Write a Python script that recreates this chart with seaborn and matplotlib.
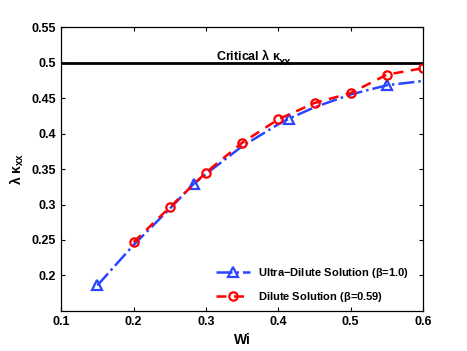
import numpy as np
import pandas as pd
import matplotlib
matplotlib.use("Agg")
import matplotlib.pyplot as plt
import seaborn as sns

# Ultra-dilute solution (beta = 1.0)
wi_ultra = [0.15, 0.2, 0.25, 0.283, 0.3, 0.35, 0.4, 0.415, 0.45, 0.5, 0.55, 0.6]
lk_ultra = [0.186, 0.243, 0.294, 0.329, 0.343, 0.382, 0.413, 0.421, 0.437, 0.455, 0.468, 0.474]
ultra_marks = [0, 3, 7, 10]

# Dilute solution (beta = 0.59)
wi_dilute = [0.2, 0.25, 0.3, 0.35, 0.4, 0.45, 0.5, 0.55, 0.6]
lk_dilute = [0.247, 0.296, 0.345, 0.387, 0.420, 0.443, 0.457, 0.483, 0.492]

critical = 0.5

sns.set_style("ticks")
plt.rcParams['font.family'] = ['Liberation Sans', 'DejaVu Sans']
plt.rcParams['font.weight'] = 'bold'
plt.rcParams['mathtext.fontset'] = 'custom'
plt.rcParams['mathtext.rm'] = 'Liberation Sans:bold'
plt.rcParams['mathtext.it'] = 'Liberation Sans:bold'
plt.rcParams['mathtext.bf'] = 'Liberation Sans:bold'
plt.rcParams['text.color'] = 'black'
plt.rcParams['axes.labelcolor'] = 'black'

df_u = pd.DataFrame({'Wi': wi_ultra, 'lk': lk_ultra})
df_d = pd.DataFrame({'Wi': wi_dilute, 'lk': lk_dilute})

fig = plt.figure(figsize=(4.67, 3.51), dpi=100)
ax = fig.add_axes([0.131, 0.114, 0.775, 0.809])

ax.axhline(critical, color='black', lw=2)

blue = '#2a45ff'
sns.lineplot(data=df_u, x='Wi', y='lk', ax=ax, color=blue, lw=1.8,
             linestyle='-.', marker='^', markersize=7, markevery=ultra_marks,
             markerfacecolor='none', markeredgecolor=blue, markeredgewidth=1.6,
             label=r'Ultra$-$Dilute Solution ($\beta$=1.0)')
sns.lineplot(data=df_d, x='Wi', y='lk', ax=ax, color='red', lw=1.8,
             linestyle=(0, (4, 3)), marker='o', markersize=6,
             markerfacecolor='none', markeredgecolor='red', markeredgewidth=1.6,
             label=r'Dilute Solution ($\beta$=0.59)')

t = ax.text(0.314, 0.504, r'Critical $\lambda$ $\kappa$', fontsize=9,
            fontweight='bold', ha='left', va='baseline')
ax.annotate('xx', xy=(1.0, 0.0), xycoords=t, xytext=(-1.5, -3.0),
            textcoords='offset points', fontsize=8, fontweight='bold',
            ha='left', va='bottom')

ax.set_xlim(0.1, 0.6)
ax.set_ylim(0.15, 0.55)
ax.set_xticks([0.1, 0.2, 0.3, 0.4, 0.5, 0.6])
ax.set_xticklabels(['0.1', '0.2', '0.3', '0.4', '0.5', '0.6'])
ax.set_yticks([0.2, 0.25, 0.3, 0.35, 0.4, 0.45, 0.5, 0.55])
ax.set_yticklabels(['0.2', '0.25', '0.3', '0.35', '0.4', '0.45', '0.5', '0.55'])
ax.tick_params(direction='in', top=True, right=True, labelsize=9, length=3,
               width=0.8, colors='black')
for s in ax.spines.values():
    s.set_linewidth(0.9)
    s.set_color('black')
    s.set_visible(True)

ax.set_xlabel('Wi', fontsize=10, fontweight='bold')
ax.set_ylabel(r'$\lambda$ $\kappa_{xx}$', fontsize=10)

ax.legend(loc='lower right', frameon=False, fontsize=8, handlelength=3,
          bbox_to_anchor=(0.99, -0.01), labelspacing=0.9)

fig.savefig('out.png', dpi=100)
